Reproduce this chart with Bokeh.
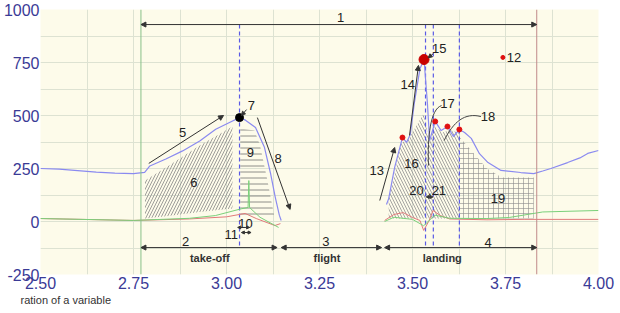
from bokeh.plotting import figure
from bokeh.models import (ColumnDataSource, FixedTicker, NumeralTickFormatter, Span,
                          Arrow, NormalHead, Title)
from bokeh.core.properties import value
from bokeh.embed import file_html
from bokeh.resources import INLINE

nan = float("nan")

# ---- force curves (time s, force) ----
blue_t = [2.50, 2.55, 2.60, 2.65, 2.70, 2.75, 2.78, 2.794, 2.837, 2.882, 2.928, 2.971, 3.008,
          3.035, 3.051, 3.078, 3.102, 3.118, 3.131, 3.142, 3.147, nan,
          3.430, 3.436, 3.452, 3.473, 3.484, 3.494, 3.505, 3.520, 3.531, 3.540, 3.546, 3.561,
          3.577, 3.594, 3.610, 3.626, 3.640, 3.658, 3.680, 3.703, 3.738, 3.791, 3.826, 3.850,
          3.872, 3.917, 3.950, 3.971, 4.000]
blue_f = [250, 247, 240, 233, 228, 226, 232, 262, 295, 333, 380, 435, 467,
          490, 478, 443, 350, 230, 115, 30, 5, nan,
          80, 108, 255, 396, 373, 410, 560, 720, 764, 560, 382, 472,
          429, 448, 401, 434, 420, 392, 320, 278, 241, 231, 226, 238,
          250, 278, 300, 321, 335]

red_t = [2.50, 2.75, 2.90, 3.00, 3.05, 3.08, 3.13, 3.145, nan,
         3.425, 3.45, 3.475, 3.50, 3.52, 3.53, 3.545, 3.555, 3.575, 3.60, 3.70, 3.80, 4.00]
red_f = [14, 5, 12, 22, 38, 14, -19, -10, nan,
         5, 33, 42, 19, 5, -42, 5, 52, 28, 12, 8, 10, 10]

green_t = [2.50, 2.75, 2.90, 2.97, 3.04, 3.058, 3.060, 3.062, 3.09, 3.14, nan,
           3.425, 3.45, 3.50, 3.53, 3.56, 3.60, 3.70, 3.76, 3.85, 4.00]
green_f = [14, 5, 15, 28, 60, 66, 193, 66, 20, -28, nan,
           0, 20, 10, -20, 30, 15, 14, 19, 45, 52]

# ---- hatched impulse regions ----
r6_t = [2.781, 2.837, 2.928, 3.016]
r6_top = [193, 255, 358, 448]
r6_bot = [14, 25, 45, 61]

r9_t = [3.037, 3.075, 3.090, 3.110, 3.128]
r9_top = [439, 429, 360, 193, 28]
r9_bot = [14, 14, 14, 14, 14]

r16_t = [3.436, 3.452, 3.470, 3.490, 3.510, 3.530, 3.545, 3.560, 3.580, 3.600, 3.626]
r16_top = [110, 230, 370, 390, 450, 510, 380, 450, 420, 430, 420]
r16_bot = [14] * len(r16_t)

r19_t = [3.626, 3.660, 3.700, 3.740, 3.826]
r19_top = [400, 330, 250, 208, 208]
r19_bot = [14] * len(r19_t)

# ---- events ----
t_start, t_end = 2.770, 3.834
t_peak_dashes = [3.035, 3.535, 3.556, 3.626]
black_pt = ([3.035], [490])
red_pts_t = [3.473, 3.561, 3.594, 3.626]
red_pts_f = [396, 472, 448, 434]
big_red = ([3.531], [764])
pt12 = ([3.743], [774])

# phases (bottom arrows)
phase_x0 = [2.770, 3.147, 3.425]
phase_x1 = [3.136, 3.417, 3.834]
phase_names = ["take-off", "flight", "landing"]
phase_name_x = [2.955, 3.270, 3.580]

labels = ["1", "2", "3", "4", "5", "6", "7", "8", "9", "10", "11", "12", "13", "14",
          "15", "16", "17", "18", "19", "20", ".21"]
label_x = [3.307, 2.890, 3.267, 3.703, 2.882, 2.912, 3.067, 3.139, 3.064, 3.051, 3.013,
           3.773, 3.404, 3.487, 3.572, 3.497, 3.594, 3.703, 3.730, 3.511, 3.566]
label_y = [962, -94, -94, -99, 420, 184, 547, 297, 325, -9, -61,
           774, 241, 646, 816, 274, 557, 495, 108, 146, 146]

x_ticks = [2.50, 2.75, 3.00, 3.25, 3.50, 3.75, 4.00]
y_ticks = [-250, 0, 250, 500, 750, 1000]

p = figure(width=620, height=313, x_range=(2.5, 4.0), y_range=(-250, 1000),
           output_backend="svg", toolbar_location=None,
           min_border_left=37, min_border_right=22, min_border_top=9, min_border_bottom=39)
p.background_fill_color = "#fdfbea"
p.border_fill_color = "white"
p.outline_line_color = None

p.xaxis.ticker = FixedTicker(ticks=x_ticks)
p.yaxis.ticker = FixedTicker(ticks=y_ticks)
p.xaxis.formatter = NumeralTickFormatter(format="0.00")
p.yaxis.major_label_overrides = {-250: "-250"}
for ax in (p.xaxis, p.yaxis):
    ax.axis_line_color = None
    ax.major_tick_line_color = None
    ax.minor_tick_line_color = None
    ax.major_tick_out = 0
    ax.major_tick_in = 0
    ax.minor_tick_out = 0
    ax.minor_tick_in = 0
    ax.major_label_text_color = "#3a3a96"
    ax.major_label_text_font = "Liberation Sans"
    ax.major_label_text_font_size = "16px"
    ax.major_label_standoff = 2
p.yaxis.major_label_standoff = 1
p.xgrid.ticker = FixedTicker(ticks=[2.5 + 0.125 * i for i in range(13)])
p.ygrid.ticker = FixedTicker(ticks=[-250 + 125 * i for i in range(11)])
p.xgrid.grid_line_color = "#dde2d2"
p.ygrid.grid_line_color = "#dde2d2"

hatch_c = "#858585"
p.varea(x=r6_t, y1=r6_bot, y2=r6_top, fill_alpha=0, hatch_pattern="/",
        hatch_color=hatch_c, hatch_scale=6, hatch_weight=0.8)
p.varea(x=r9_t, y1=r9_bot, y2=r9_top, fill_alpha=0, hatch_pattern="-",
        hatch_color="#707070", hatch_scale=6, hatch_weight=0.8)
p.varea(x=r16_t, y1=r16_bot, y2=r16_top, fill_alpha=0, hatch_pattern="\\",
        hatch_color="#8f8f8f", hatch_scale=6, hatch_weight=0.8)
p.varea(x=r19_t, y1=r19_bot, y2=r19_top, fill_alpha=0, hatch_pattern="+",
        hatch_color="#8a8a8a", hatch_scale=5, hatch_weight=0.6)

p.add_layout(Span(location=t_start, dimension="height", line_color="#88c088", line_width=1))
p.add_layout(Span(location=t_end, dimension="height", line_color="#c08a8a", line_width=1))
p.segment(x0=t_peak_dashes, y0=[929] * 4, x1=t_peak_dashes, y1=[-120] * 4,
          line_color="#5a5ae6", line_dash="4 3", line_width=1.2)

p.line(red_t, red_f, line_color="#e07a7a", line_width=1)
p.line(green_t, green_f, line_color="#7ad07a", line_width=1)
p.line(blue_t, blue_f, line_color="#8a8af0", line_width=1.2)

p.scatter(*black_pt, size=8, color="black")
p.scatter(red_pts_t, red_pts_f, size=5, color="#e01010")
p.scatter(*big_red, size=10, color="#c80000")
p.scatter(*pt12, size=4, color="#e01010")


def arrow(x0, y0, x1, y1, both=False, size=5):
    head = NormalHead(size=size, fill_color="#333", line_color="#333")
    kw = dict(x_start=x0, y_start=y0, x_end=x1, y_end=y1, line_color="#333",
              line_width=1, end=head)
    if both:
        kw["start"] = NormalHead(size=size, fill_color="#333", line_color="#333")
    else:
        kw["start"] = None
    p.add_layout(Arrow(**kw))


arrow(t_start, 929, t_end, 929, both=True)
for a, b in zip(phase_x0, phase_x1):
    arrow(a, -123, b, -123, both=True)
arrow(2.791, 274, 2.992, 500)
arrow(3.083, 490, 3.171, 57)
arrow(3.412, 99, 3.452, 349)
arrow(3.492, 406, 3.516, 736)
arrow(3.054, 528, 3.040, 500, size=4)
arrow(3.556, 792, 3.542, 772, size=4)
arrow(3.030, -28, 3.062, -28, both=True, size=3)
arrow(3.040, -52, 3.066, -52, both=True, size=3)
arrow(3.537, 116, 3.555, 116, both=True, size=3)

p.bezier(x0=[3.578, 3.684], y0=[547, 495], x1=[3.543, 3.585], y1=[264, 382],
         cx0=[3.548, 3.640], cy0=[530, 515], cx1=[3.540, 3.610], cy1=[400, 470],
         line_color="#444", line_width=1)

src = ColumnDataSource(dict(x=label_x, y=label_y, t=labels))
p.text(x="x", y="y", text="t", source=src, text_align="center", text_baseline="middle",
       text_font=value("Liberation Sans"), text_font_size="13px", text_color="#222")
p.text(x=phase_name_x, y=[-170] * 3, text=phase_names, text_align="center",
       text_baseline="middle", text_font=value("Liberation Sans"), text_font_size="11px",
       text_font_style="bold", text_color="#333")

p.add_layout(Title(text="ration of a variable", align="left", offset=-20,
                   text_font="Liberation Sans", text_font_size="11px",
                   text_font_style="normal", text_color="#333", standoff=0), "below")

open("out.html", "w").write(file_html(p, INLINE))
